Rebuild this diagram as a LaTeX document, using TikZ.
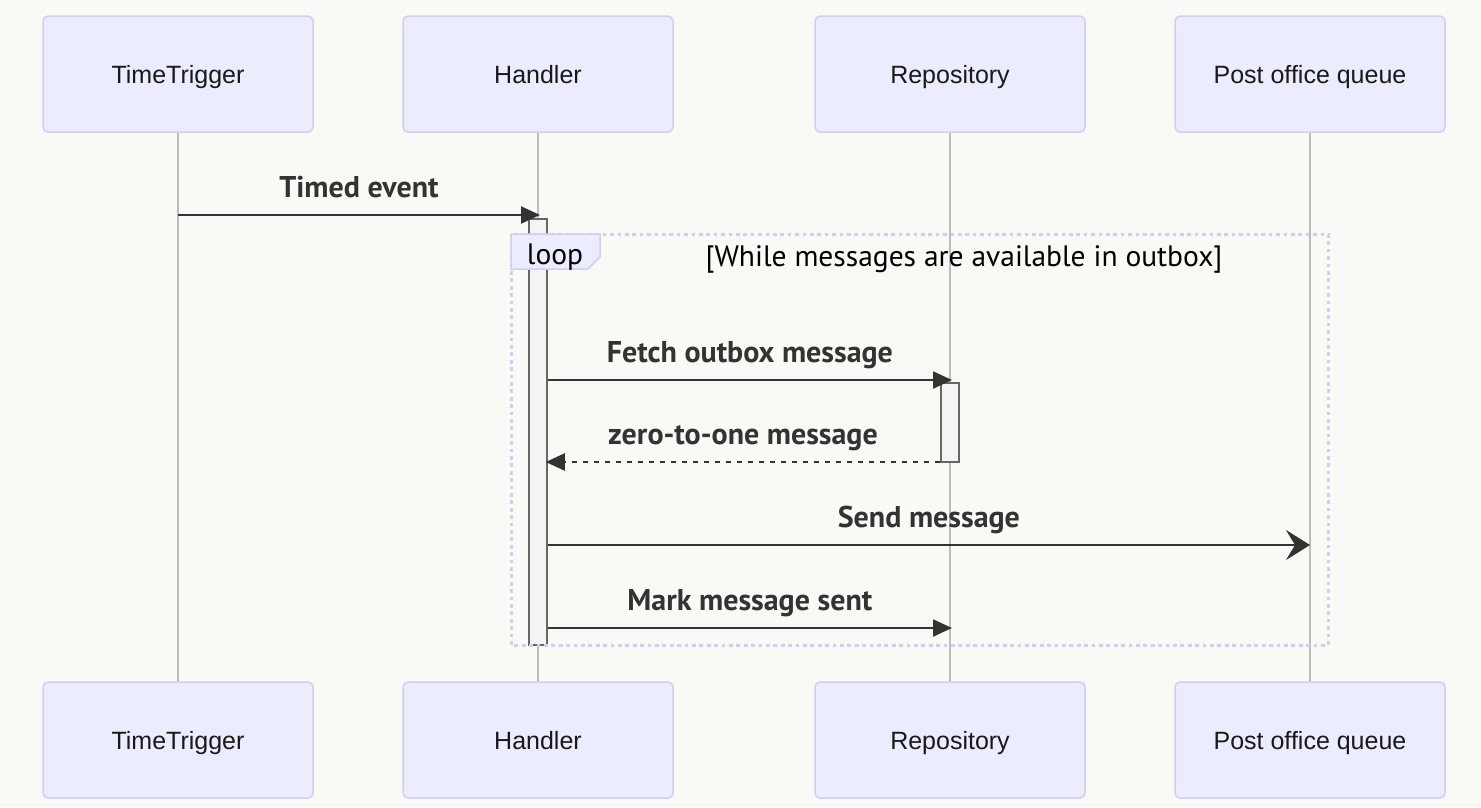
\documentclass[tikz,border=0pt]{standalone}
\usepackage{fontspec}
\setmainfont{Liberation Sans}
\newfontfamily\msgfont{PT Sans}
\usetikzlibrary{arrows.meta,positioning}
\definecolor{actfill}{HTML}{ECECFF}
\definecolor{actborder}{HTML}{D6CBF3}
\definecolor{bgcol}{HTML}{F9F9F6}
\definecolor{msgcol}{HTML}{333333}
\definecolor{lifecol}{HTML}{BDBDBD}
\definecolor{barfill}{HTML}{F4F4F4}
\definecolor{barline}{HTML}{666666}
\tikzset{%
	actor/.style={draw=actborder,fill=actfill,line width=1.5pt,rounded corners=5pt,minimum width=270pt,minimum height=116pt,inner sep=0pt,text height=18pt,text depth=0pt,font=\fontsize{25}{30}\selectfont,text=black!90},
	lifeline/.style={draw=lifecol,line width=1.3pt},
	msg/.style={draw=msgcol,line width=2.2pt,-{Triangle[length=19pt,width=17pt]}},
	reply/.style={msg,dash pattern=on 5.5pt off 5.5pt},
	async/.style={draw=msgcol,line width=2.2pt,-{Stealth[length=24pt,width=30pt,inset=9pt]}},
	msglabel/.style={anchor=base,yshift=18pt,text=msgcol,font=\msgfont\fontsize{30}{34}\selectfont\bfseries},
	activation/.style={draw=barline,fill=barfill,line width=1.5pt,inner sep=0pt,minimum width=18pt},
	loopframe/.style={draw=actborder,line width=3pt,dash pattern=on 3.7pt off 3.7pt},
	looptext/.style={anchor=base,text=black,font=\msgfont\fontsize{29.5}{34}\selectfont},
}

\begin{document}
\begin{tikzpicture}[x=1pt,y=-1pt]
	\fill[bgcol] (0,0) rectangle (1481,807);
	\useasboundingbox (0,0) rectangle (1481,807);
	% participants
	\node[actor] (trigTop) at (178,74) {TimeTrigger};
	\node[actor] (handTop) at (538,74) {Handler};
	\node[actor] (repoTop) at (950,74) {Repository};
	\node[actor] (postTop) at (1310,74) {Post office queue};
	\node[actor] (trigBot) at (178,740) {TimeTrigger};
	\node[actor] (handBot) at (538,740) {Handler};
	\node[actor] (repoBot) at (950,740) {Repository};
	\node[actor] (postBot) at (1310,740) {Post office queue};
	\draw[lifeline] (trigTop) -- (trigBot);
	\draw[lifeline] (handTop) -- (handBot);
	\draw[lifeline] (repoTop) -- (repoBot);
	\draw[lifeline] (postTop) -- (postBot);
	% activations
	\node[activation,minimum height=426pt] (handAct) at (538,432) {};
	\node[activation,minimum height=79pt] (repoAct) at (950,422.5) {};
	% loop
	\draw[loopframe] (511,234) rectangle (1328,645);
	\draw[draw=actborder,fill=actfill,line width=1.5pt] (511,234) -- (600,234) -- (600,257) -- (588,269) -- (511,269) -- cycle;
	\node[looptext] (loopLbl) at (555,264) {loop};
	\node[looptext] (loopCond) at (964,266) {[While messages are available in outbox]};
	% messages
	\coordinate (row1) at (0,215);
	\coordinate (row2) at (0,380);
	\coordinate (row3) at (0,462);
	\coordinate (row4) at (0,545);
	\coordinate (row5) at (0,628);
	\draw[msg] (trigTop |- row1) -- node[msglabel] {Timed event} ([xshift=2pt]handTop |- row1);
	\draw[msg] (handAct.east |- row2) -- node[msglabel] {Fetch outbox message} ([xshift=2pt]repoTop |- row2);
	\draw[reply] (repoAct.west |- row3) -- node[msglabel] {zero-to-one message} ([xshift=-2pt]handAct.east |- row3);
	\draw[async] (handAct.east |- row4) -- node[msglabel] {Send message} (postTop |- row4);
	\draw[msg] (handAct.east |- row5) -- node[msglabel] {Mark message sent} ([xshift=2pt]repoTop |- row5);
\end{tikzpicture}
\end{document}
